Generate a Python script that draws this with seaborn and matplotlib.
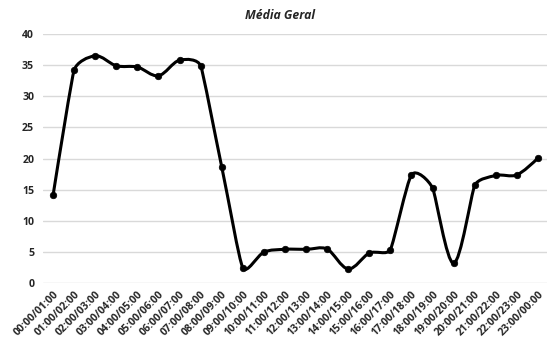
import numpy as np
import pandas as pd
import matplotlib
matplotlib.use("Agg")
import matplotlib.pyplot as plt
from matplotlib.path import Path
from matplotlib.patches import PathPatch
import seaborn as sns

# Hourly averages
periodos = [
    "00:00/01:00", "01:00/02:00", "02:00/03:00", "03:00/04:00", "04:00/05:00",
    "05:00/06:00", "06:00/07:00", "07:00/08:00", "08:00/09:00", "09:00/10:00",
    "10:00/11:00", "11:00/12:00", "12:00/13:00", "13:00/14:00", "14:00/15:00",
    "15:00/16:00", "16:00/17:00", "17:00/18:00", "18:00/19:00", "19:00/20:00",
    "20:00/21:00", "21:00/22:00", "22:00/23:00", "23:00/00:00",
]
media = [14.1, 34.2, 36.5, 34.9, 34.7, 33.3, 35.8, 34.9, 18.7, 2.5,
         5.0, 5.45, 5.45, 5.5, 2.3, 4.85, 5.4, 17.4, 15.3, 3.2,
         15.7, 17.3, 17.4, 20.1]
y_ticks = [0, 5, 10, 15, 20, 25, 30, 35, 40]

df = pd.DataFrame({"periodo": periodos, "media": media, "pos": np.arange(len(periodos))})

sns.set_theme(style="white")
plt.rcParams["font.family"] = ["Open Sans", "DejaVu Sans"]

W, H = 547, 339
ax_left, ax_top, ax_bottom, ax_w = 42.5, 34.0, 283.3, 506.0
fig = plt.figure(figsize=(W / 100, H / 100), dpi=100)
ax = fig.add_axes([ax_left / W, 1 - ax_bottom / H, ax_w / W, (ax_bottom - ax_top) / H])

n = len(media)
ymax = 40
ax.set_xlim(-0.5, n - 0.5)
ax.set_ylim(0, ymax)

# Smoothed curve: Catmull-Rom Bezier handles (neighbour difference / 6),
# capped at a third of the shorter adjacent segment
x = df["pos"].to_numpy(float)
y = df["media"].to_numpy(float)
scale = np.array([ax_w / n, (ax_bottom - ax_top) / ymax])   # pixels per data unit
pts = np.column_stack([x, y]) * scale

c_in = pts.copy()
c_out = pts.copy()
for i in range(1, n - 1):
    hv = (pts[i + 1] - pts[i - 1]) / 6
    hl = np.hypot(*hv)
    if hl == 0:
        continue
    dp = np.hypot(*(pts[i] - pts[i - 1]))
    dn = np.hypot(*(pts[i + 1] - pts[i]))
    cap = min(dp, dn) / 3
    if hl > cap:
        hv = hv * cap / hl
    c_in[i] = pts[i] - hv
    c_out[i] = pts[i] + hv
# ends: handles point toward the neighbouring control point
c_out[0] = pts[0] + (c_in[1] - pts[0]) / 3
c_in[-1] = pts[-1] + (c_out[-2] - pts[-1]) / 3

pts_d, c_in_d, c_out_d = pts / scale, c_in / scale, c_out / scale
verts = [tuple(pts_d[0])]
codes = [Path.MOVETO]
for i in range(n - 1):
    verts += [tuple(c_out_d[i]), tuple(c_in_d[i + 1]), tuple(pts_d[i + 1])]
    codes += [Path.CURVE4] * 3
ax.add_patch(PathPatch(Path(verts, codes), facecolor="none", edgecolor="black",
                       lw=2.2, capstyle="round", joinstyle="round", zorder=3))

sns.scatterplot(data=df, x="pos", y="media", ax=ax, color="black", s=22,
                edgecolor="black", linewidth=0.5, zorder=4, legend=False)

ax.set_yticks(y_ticks)
ax.set_yticklabels([str(t) for t in y_ticks])
ax.set_xticks(np.arange(n))
ax.set_xticklabels(periodos, rotation=45, ha="right", rotation_mode="anchor")
ax.set_xlabel("")
ax.set_ylabel("")

ax.grid(axis="y", color="#d9d9d9", lw=1)
ax.grid(axis="x", visible=False)
for s in ax.spines.values():
    s.set_visible(False)
ax.tick_params(axis="both", length=0, labelsize=7.6)
ax.tick_params(axis="y", pad=6)
ax.tick_params(axis="x", pad=4)
for lbl in ax.get_xticklabels() + ax.get_yticklabels():
    lbl.set_fontweight("bold")
    lbl.set_color("#262626")

ax.set_title("Média Geral", fontsize=8.8, fontweight="bold", fontstyle="italic",
             color="#262626", x=0.469, pad=11)

fig.savefig("out.png", dpi=100)
